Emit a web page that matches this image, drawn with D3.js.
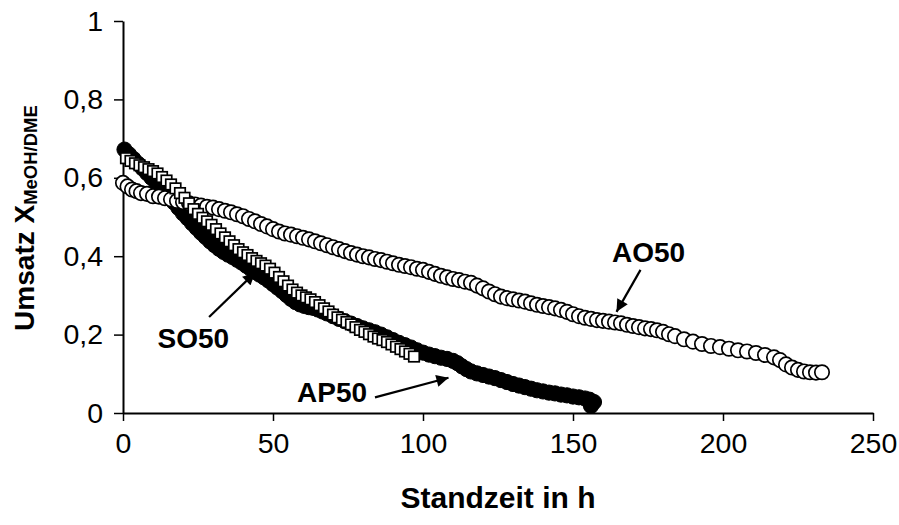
<!DOCTYPE html>
<html>
<head>
<meta charset="utf-8">
<script src="https://cdn.jsdelivr.net/npm/d3@7"></script>
<style>
  html, body { margin: 0; padding: 0; background: #fff; }
  svg { display: block; font-family: "Liberation Sans", Arial, sans-serif; }
</style>
</head>
<body>
<svg id="chart" width="899" height="525"></svg>
<script>
// Methanol/DME conversion over time on stream for three catalysts
const xTicks = [0, 50, 100, 150, 200, 250];
const yTicks = [0, 0.2, 0.4, 0.6, 0.8, 1];

// AO50 (open circles)
const aoHours = [0,1.5,3,4.5,6,8,10,12,14,16,18,20,22,24,26,28,30,32,34,36,38,40,42,44,46,48,50,52,54,56,58,60,62,64,66,68,70,72,74,76,78,80,82,84,86,88,90,92,94,96,98,100,102,104,106,108,110,112,114,116,118,120,122,124,126,128,130,132,134,136,138,140,142,144,146,148,150,152,154,156,158,160,162,164,166,168,170,172,174,176,178,180,182,184,187,190,193,196,199,202,205,208,211,214,217,219,221,223,225,227,229,231,233];
const aoConv = [0.587,0.578,0.570,0.566,0.561,0.559,0.553,0.552,0.548,0.545,0.541,0.538,0.535,0.532,0.529,0.526,0.524,0.520,0.516,0.512,0.507,0.502,0.495,0.489,0.482,0.476,0.469,0.463,0.458,0.455,0.451,0.447,0.443,0.438,0.433,0.428,0.423,0.418,0.413,0.408,0.404,0.400,0.397,0.393,0.390,0.386,0.382,0.378,0.375,0.372,0.368,0.365,0.360,0.355,0.350,0.346,0.342,0.339,0.335,0.332,0.325,0.318,0.310,0.303,0.297,0.293,0.290,0.287,0.284,0.280,0.276,0.273,0.270,0.267,0.263,0.258,0.252,0.247,0.243,0.240,0.237,0.235,0.233,0.231,0.229,0.225,0.222,0.219,0.216,0.214,0.211,0.207,0.201,0.196,0.188,0.182,0.176,0.171,0.168,0.164,0.160,0.157,0.153,0.148,0.142,0.135,0.124,0.116,0.110,0.106,0.104,0.103,0.104];

// SO50 (open squares)
const soHours = [1,2.5,4,5.5,7,8.5,10,11.5,13,14.5,16,17.5,19,20.5,22,23.5,25,26.5,28,29.5,31,32.5,34,35.5,37,38.5,40,41.5,43,44.5,46,47.5,49,50.5,52,53.5,55,56.5,58,59.5,61,62.5,64,65.5,67,68.5,70,71.5,73,74.5,76,77.5,79,80.5,82,83.5,85,86.5,88,89.5,91,92.5,94,95.5,97];
const soConv = [0.650,0.643,0.637,0.632,0.627,0.622,0.617,0.611,0.602,0.593,0.583,0.573,0.561,0.549,0.535,0.520,0.508,0.498,0.489,0.480,0.469,0.458,0.448,0.438,0.428,0.418,0.410,0.403,0.395,0.388,0.382,0.376,0.368,0.358,0.347,0.336,0.325,0.315,0.307,0.300,0.295,0.290,0.283,0.275,0.267,0.259,0.251,0.244,0.238,0.232,0.226,0.219,0.212,0.207,0.201,0.195,0.190,0.186,0.181,0.175,0.169,0.163,0.157,0.151,0.144];

// AP50 (filled circles)
const apHours = [0.5,2,3.5,5,6.5,8,9.5,11,12.5,14,15.5,17,18.5,20,21.5,23,24.5,26,27.5,29,30.5,32,33.5,35,36.5,38,39.5,41,42.5,44,45.5,47,48.5,50,51.5,53,54.5,56,57.5,59,60.5,62,63.5,65,66.5,68,70,72,74,76,78,80,82,84,86,88,90,92,94,96,98,100,102,104,106,108,110,111.5,113,114.5,116,118,120,122,124,126,128,130,132,134,136,138,140,142,144,146,148,150,152,154,155.5,157,156];
const apConv = [0.672,0.660,0.648,0.636,0.624,0.612,0.600,0.588,0.576,0.563,0.550,0.537,0.523,0.509,0.497,0.484,0.472,0.460,0.449,0.438,0.428,0.419,0.411,0.404,0.398,0.391,0.384,0.376,0.368,0.360,0.353,0.346,0.338,0.329,0.320,0.311,0.301,0.291,0.283,0.277,0.273,0.270,0.268,0.264,0.259,0.254,0.247,0.240,0.234,0.228,0.222,0.216,0.211,0.206,0.200,0.193,0.186,0.179,0.173,0.167,0.160,0.154,0.149,0.145,0.141,0.138,0.133,0.127,0.119,0.112,0.106,0.101,0.097,0.093,0.089,0.084,0.079,0.074,0.070,0.066,0.062,0.058,0.055,0.052,0.050,0.047,0.045,0.042,0.040,0.037,0.034,0.028,0.018];

// Series labels with arrow start and tip, given in data units
const labelNames = ["AO50", "SO50", "AP50"];
const labelAt = [[163, 0.385], [11.5, 0.165], [58, 0.028]];
const arrowFrom = [[172.5, 0.365], [28.7, 0.245], [84, 0.04]];
const arrowTo = [[164.5, 0.258], [44, 0.358], [108.5, 0.09]];

const svg = d3.select("#chart");
const x = d3.scaleLinear().domain([0, 250]).range([123, 873]);
const y = d3.scaleLinear().domain([0, 1]).range([413, 21]);
const fmt = d => String(+d.toFixed(1)).replace(".", ",");

// Axes
const gx = svg.append("g").attr("transform", `translate(0,${y(0)})`)
  .call(d3.axisBottom(x).tickValues(xTicks).tickSize(8).tickSizeOuter(0).tickPadding(12).tickFormat(d3.format("d")));
const gy = svg.append("g").attr("transform", `translate(${x(0)},0)`)
  .call(d3.axisLeft(y).tickValues(yTicks).tickSize(9).tickSizeOuter(0).tickPadding(11).tickFormat(fmt));
[gx, gy].forEach(g => {
  g.select(".domain").attr("stroke", "#000").attr("stroke-width", 2);
  g.selectAll(".tick line").attr("stroke", "#000").attr("stroke-width", 1.5);
  g.selectAll(".tick text").attr("fill", "#000").style("font-size", "28.5px")
    .style("font-family", "'Liberation Sans', Arial, sans-serif");
});

// Axis titles
svg.append("text")
  .attr("x", x(125)).attr("y", 508)
  .attr("text-anchor", "middle")
  .style("font-size", "30px").style("font-weight", "bold")
  .text("Standzeit in h");

const yTitle = svg.append("text")
  .attr("transform", "translate(34,218) rotate(-90)")
  .attr("text-anchor", "middle")
  .style("font-size", "28px").style("font-weight", "bold");
yTitle.append("tspan").text("Umsatz X");
yTitle.append("tspan").attr("dy", 3).style("font-size", "18.5px").text("MeOH/DME");

// Data series
const rows = (hs, vs) => hs.map((h, i) => [h, vs[i]]);

svg.append("g").selectAll("circle").data(rows(apHours, apConv)).join("circle")
  .attr("cx", d => x(d[0])).attr("cy", d => y(d[1])).attr("r", 7.6)
  .attr("fill", "#000").attr("stroke", "#000").attr("stroke-width", 1);

svg.append("g").selectAll("circle").data(rows(aoHours, aoConv)).join("circle")
  .attr("cx", d => x(d[0])).attr("cy", d => y(d[1])).attr("r", 7.2)
  .attr("fill", "#fff").attr("stroke", "#000").attr("stroke-width", 1.7);

const sq = 10.5;
svg.append("g").selectAll("rect").data(rows(soHours, soConv)).join("rect")
  .attr("x", d => x(d[0]) - sq / 2).attr("y", d => y(d[1]) - sq / 2)
  .attr("width", sq).attr("height", sq)
  .attr("fill", "#fff").attr("stroke", "#000").attr("stroke-width", 1.7);

// Series labels and arrows
svg.append("defs").append("marker")
  .attr("id", "head").attr("viewBox", "0 0 10 10")
  .attr("refX", 10).attr("refY", 5)
  .attr("markerWidth", 6).attr("markerHeight", 5.5)
  .attr("markerUnits", "strokeWidth").attr("orient", "auto")
  .append("path").attr("d", "M0,0 L10,5 L0,10 Z").attr("fill", "#000");

labelNames.forEach((name, i) => {
  svg.append("line")
    .attr("x1", x(arrowFrom[i][0])).attr("y1", y(arrowFrom[i][1]))
    .attr("x2", x(arrowTo[i][0])).attr("y2", y(arrowTo[i][1]))
    .attr("stroke", "#000").attr("stroke-width", 2.2)
    .attr("marker-end", "url(#head)");
  svg.append("text")
    .attr("x", x(labelAt[i][0])).attr("y", y(labelAt[i][1]))
    .style("font-size", "28px").style("font-weight", "bold")
    .text(name);
});
</script>
</body>
</html>
